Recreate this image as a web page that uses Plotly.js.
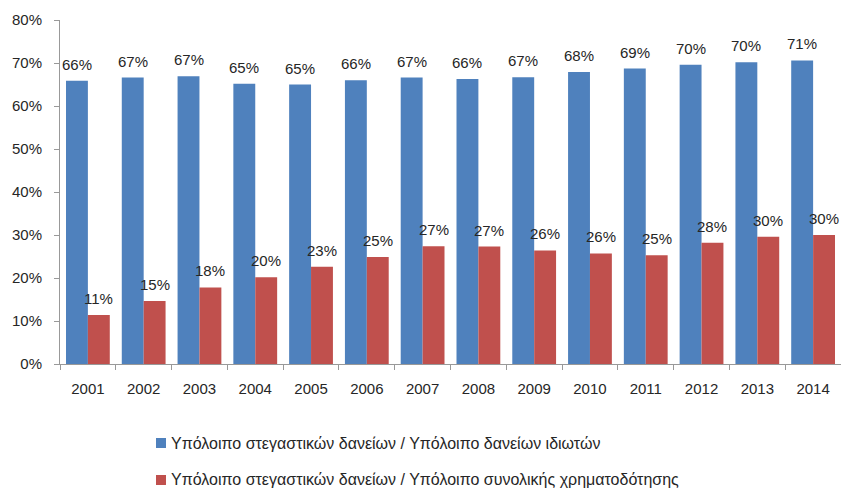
<!DOCTYPE html>
<html>
<head>
<meta charset="utf-8">
<script src="https://cdn.plot.ly/plotly-3.0.1.min.js"></script>
<style>html,body{margin:0;padding:0;background:#fff;}#chart{width:841px;height:488px;}</style>
</head>
<body>
<div id="chart"></div>
<script>
const years = ['2001','2002','2003','2004','2005','2006','2007','2008','2009','2010','2011','2012','2013','2014'];
const housingToPrivate = [0.659,0.666,0.669,0.652,0.650,0.660,0.666,0.663,0.667,0.679,0.687,0.696,0.702,0.706];
const housingToTotal = [0.114,0.1465,0.178,0.202,0.226,0.249,0.274,0.273,0.264,0.257,0.253,0.282,0.296,0.300];
const seriesNames = ['Υπόλοιπο στεγαστικών δανείων / Υπόλοιπο δανείων ιδιωτών','Υπόλοιπο στεγαστικών δανείων / Υπόλοιπο συνολικής χρηματοδότησης'];
const colors = ['#4F81BD','#C0504D'];

const fam = 'Liberation Sans, Arial, sans-serif';
const txtColor = '#262626';
const font = {family:fam, size:15, color:txtColor};

const traces = [
  {type:'bar', x:years, y:housingToPrivate, name:seriesNames[0], marker:{color:colors[0]}, hoverinfo:'none'},
  {type:'bar', x:years, y:housingToTotal, name:seriesNames[1], marker:{color:colors[1]}, hoverinfo:'none'}
];

const annotations = [];
[housingToPrivate, housingToTotal].forEach((arr, si) => {
  arr.forEach((v, i) => {
    annotations.push({
      x: i + (si === 0 ? -0.196 : 0.196), y: v, xref:'x', yref:'y',
      text: Math.round(v*100) + '%',
      showarrow:false, yanchor:'bottom', yshift: 6,
      font: {family:fam, size:15, color:txtColor}
    });
  });
});

// custom legend (two stacked rows)
const legendRows = [{y0:-0.2442, y1:-0.2151, ty:-0.2297}, {y0:-0.3517, y1:-0.3227, ty:-0.3372}];
const shapes = [];
seriesNames.forEach((nm, k) => {
  shapes.push({type:'rect', xref:'paper', yref:'paper', x0:0.1229, x1:0.1357, y0:legendRows[k].y0, y1:legendRows[k].y1, fillcolor:colors[k], line:{width:0}});
  annotations.push({xref:'paper', yref:'paper', x:0.1396, y:legendRows[k].ty, xanchor:'left', yanchor:'middle', text:nm, showarrow:false, font:{family:fam, size:16, color:txtColor}});
});

const layout = {
  width:841, height:488,
  margin:{l:60, r:0, t:20, b:124},
  paper_bgcolor:'#fff', plot_bgcolor:'#fff',
  font: font,
  barmode:'group', bargap:0.215, bargroupgap:0,
  showlegend:false,
  xaxis:{type:'category', range:[-0.5, 13.5], autorange:false, showline:true, linecolor:'#999', linewidth:1, ticks:'outside', tickson:'boundaries', ticklen:5, tickcolor:'#999', showgrid:false, tickfont:font, tickangle:0, ticklabelstandoff:11},
  yaxis:{range:[0,0.8], dtick:0.1, tickformat:'.0%', showline:true, linecolor:'#999', linewidth:1, ticks:'outside', ticklen:5, tickcolor:'#999', showgrid:false, zeroline:false, tickfont:font, ticklabelstandoff:9},
  shapes: shapes,
  annotations: annotations
};

Plotly.newPlot('chart', traces, layout, {displayModeBar:false, staticPlot:true});
</script>
</body>
</html>
